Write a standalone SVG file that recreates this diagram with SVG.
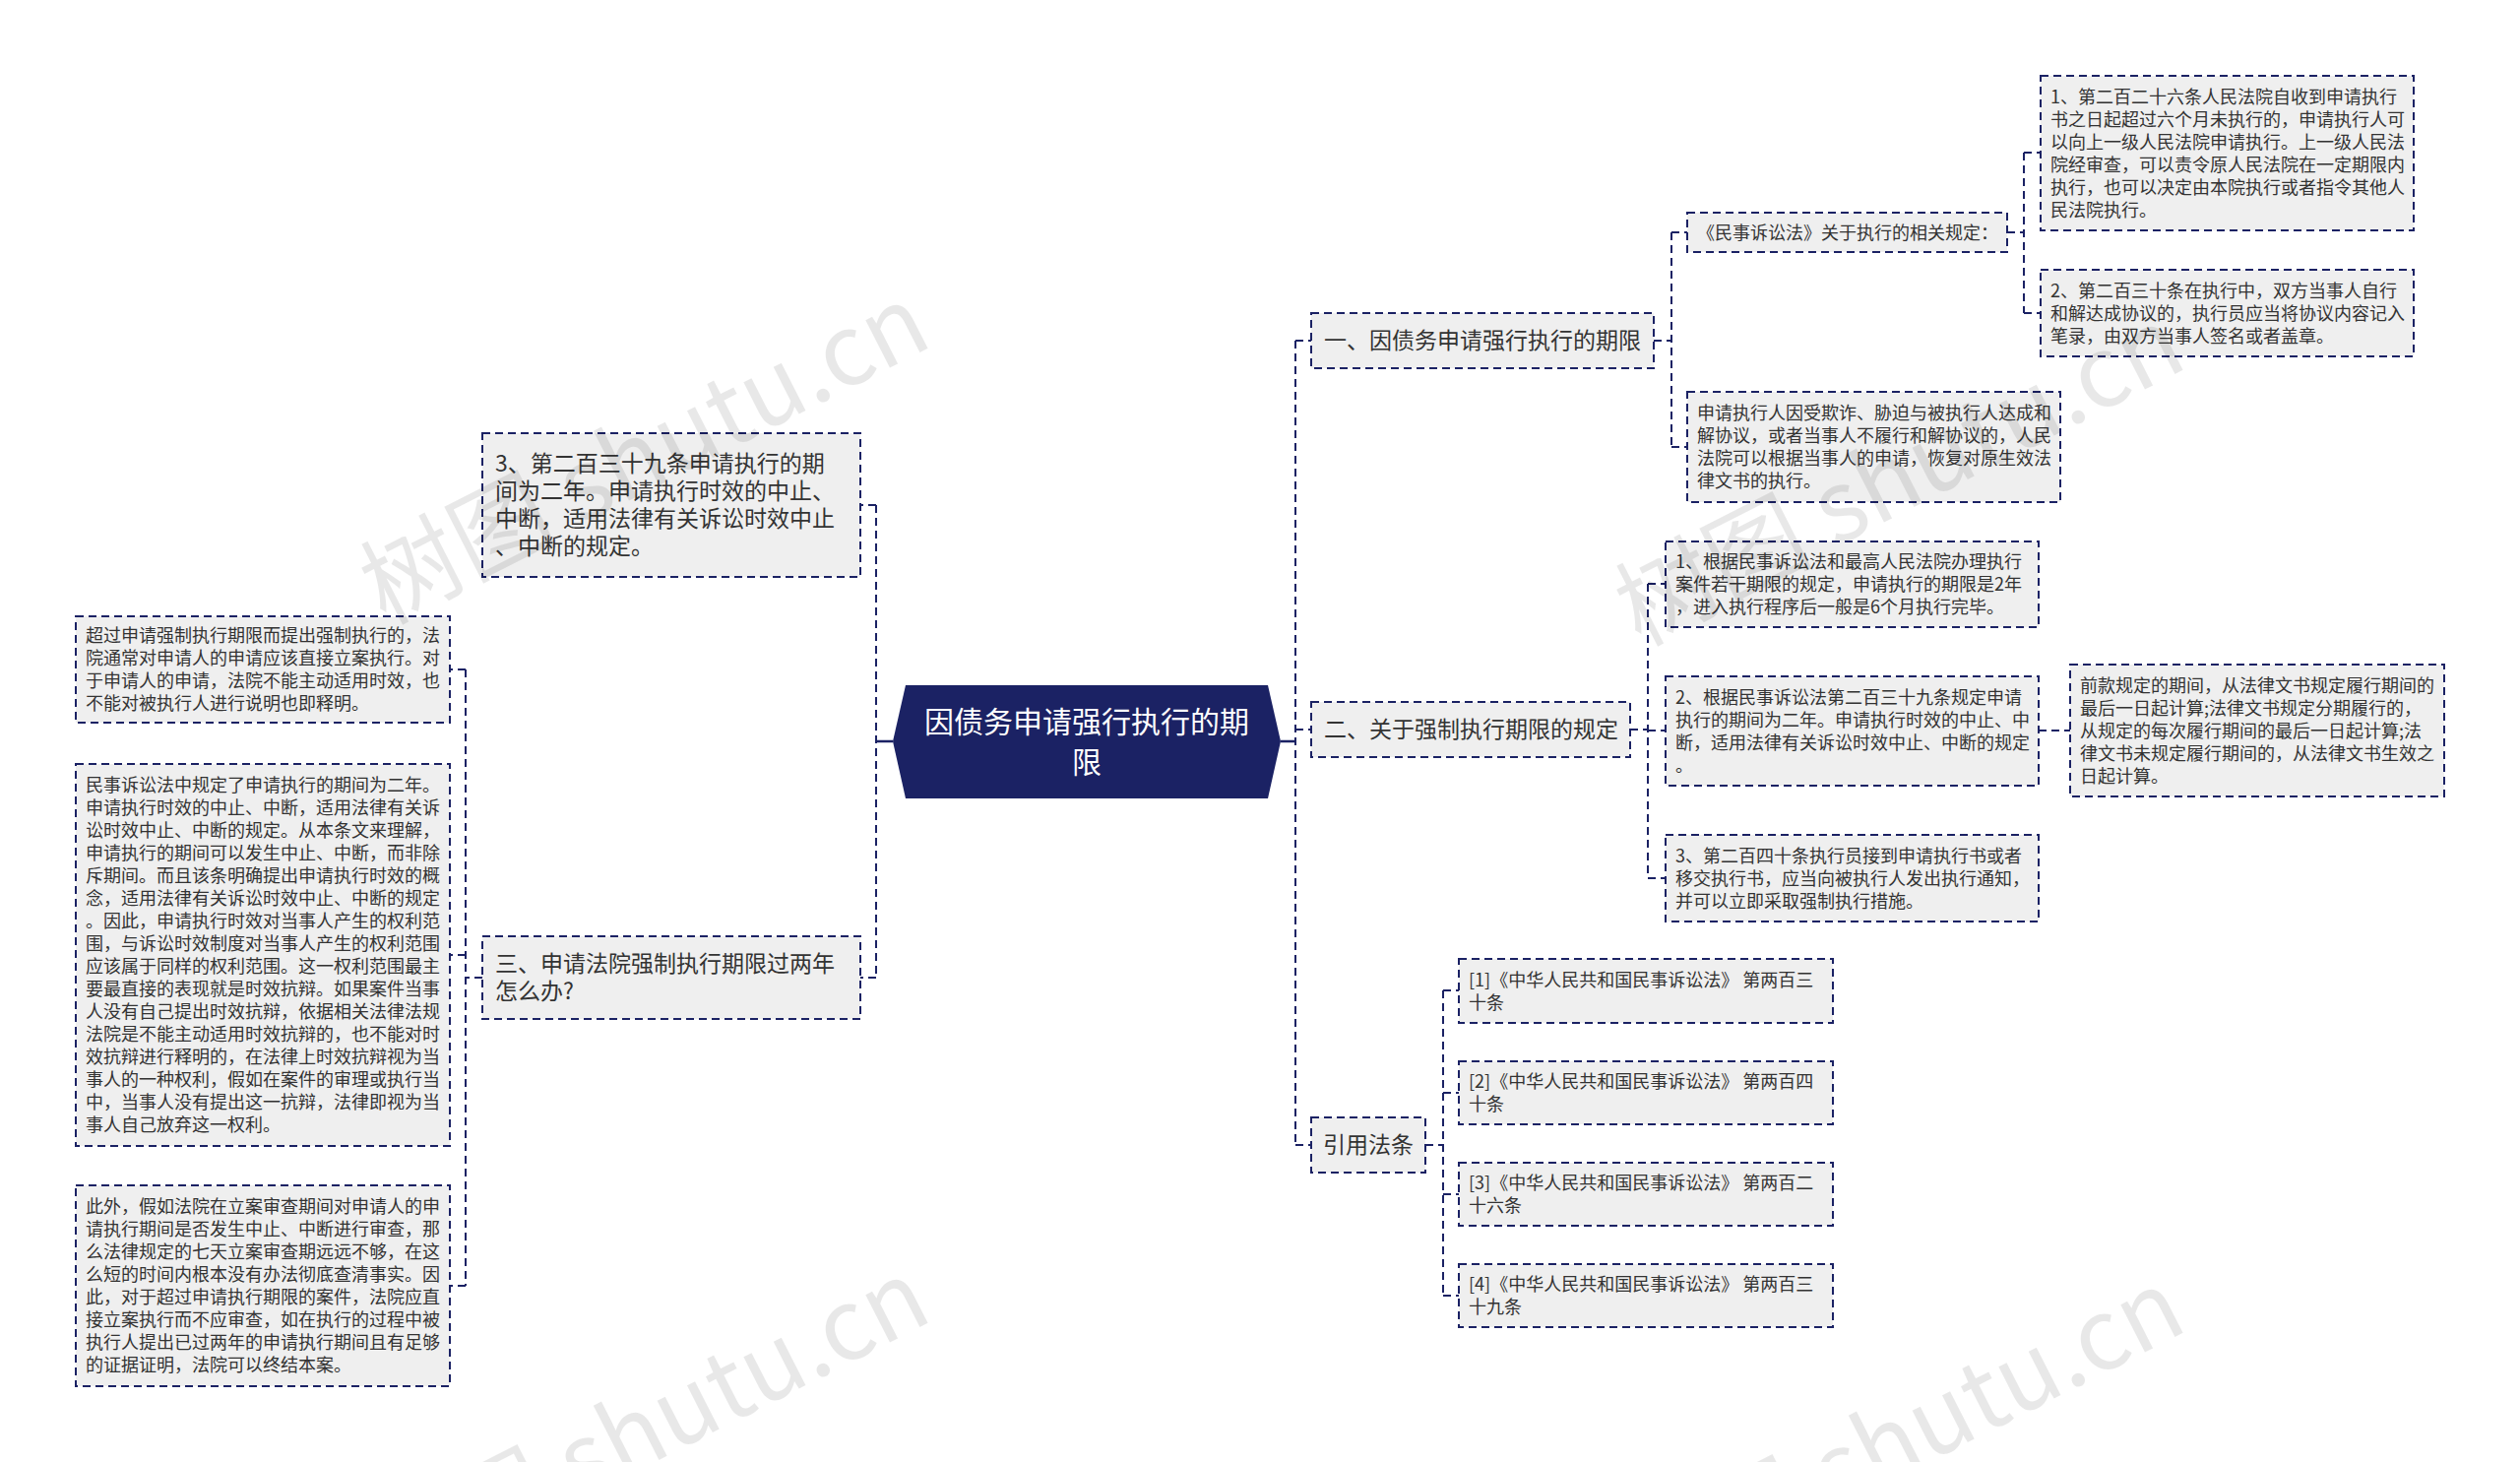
<svg xmlns="http://www.w3.org/2000/svg" width="2560" height="1485" viewBox="0 0 2560 1485">
<style>
.box{fill:#efefef;stroke:#1b2264;stroke-width:2;stroke-dasharray:8 5}
.ln{fill:none;stroke:#1b2264;stroke-width:2;stroke-dasharray:8 5}
.sl{fill:none;stroke:#1b2264;stroke-width:2.5}
text{font-family:"Noto Sans CJK SC","Noto Sans",sans-serif;fill:#333}
.t1{font-size:23px}
.t2{font-size:18px}
.tc{font-size:30px;fill:#fff}
.wm{font-size:100px;fill:#000;fill-opacity:0.09}
</style>
<rect width="2560" height="1485" fill="#fff"/>
<g id="connectors">
<path class="sl" d="M907 753H890M1301 753H1316"/>
<path class="ln" d="M890 513V993M890 513H874M890 993H874"/>
<path class="ln" d="M1316 346V1163M1316 346H1332M1316 741H1332M1316 1163H1332"/>
<path class="ln" d="M1680 346H1698M1698 236V454M1698 236H1714M1698 454H1714"/>
<path class="ln" d="M2039 236H2056M2056 155V318M2056 155H2073M2056 318H2073"/>
<path class="ln" d="M1656 741H1674M1674 593V892M1674 593H1692M1674 742H1692M1674 892H1692"/>
<path class="ln" d="M2071 742H2103"/>
<path class="ln" d="M1448 1163H1466M1466 1006V1316M1466 1006H1482M1466 1110H1482M1466 1213H1482M1466 1316H1482"/>
<path class="ln" d="M490 993H473M473 680V1306M473 680H457M473 970H457M473 1306H457"/>
</g>
<g id="root">
<polygon points="920,696 1288,696 1301,753 1288,811 920,811 907,753" fill="#1b2264"/>
<text class="tc" text-anchor="middle"><tspan x="1104" y="744">因债务申请强行执行的期</tspan><tspan x="1104" y="785">限</tspan></text>
</g>
<g id="b1">
<rect class="box" x="1332" y="318" width="348" height="56"/>
<text class="t1" x="1345" y="354">一、因债务申请强行执行的期限</text>
</g>
<g id="b1-law">
<rect class="box" x="1714" y="216" width="325" height="40"/>
<text class="t2" x="1724" y="242.5">《民事诉讼法》关于执行的相关规定：</text>
</g>
<g id="b1-law-1">
<rect class="box" x="2073" y="77" width="379" height="157"/>
<text class="t2"><tspan x="2083" y="104.5">1、第二百二十六条人民法院自收到申请执行</tspan><tspan x="2083" y="127.5">书之日起超过六个月未执行的，申请执行人可</tspan><tspan x="2083" y="150.5">以向上一级人民法院申请执行。上一级人民法</tspan><tspan x="2083" y="173.5">院经审查，可以责令原人民法院在一定期限内</tspan><tspan x="2083" y="196.5">执行，也可以决定由本院执行或者指令其他人</tspan><tspan x="2083" y="219.5">民法院执行。</tspan></text>
</g>
<g id="b1-law-2">
<rect class="box" x="2073" y="274" width="379" height="88"/>
<text class="t2"><tspan x="2083" y="301.5">2、第二百三十条在执行中，双方当事人自行</tspan><tspan x="2083" y="324.5">和解达成协议的，执行员应当将协议内容记入</tspan><tspan x="2083" y="347.5">笔录，由双方当事人签名或者盖章。</tspan></text>
</g>
<g id="b1-restore">
<rect class="box" x="1714" y="398" width="379" height="112"/>
<text class="t2"><tspan x="1724" y="426">申请执行人因受欺诈、胁迫与被执行人达成和</tspan><tspan x="1724" y="449">解协议，或者当事人不履行和解协议的，人民</tspan><tspan x="1724" y="472">法院可以根据当事人的申请，恢复对原生效法</tspan><tspan x="1724" y="495">律文书的执行。</tspan></text>
</g>
<g id="b2">
<rect class="box" x="1332" y="713" width="324" height="56"/>
<text class="t1" x="1345" y="749">二、关于强制执行期限的规定</text>
</g>
<g id="b2-1">
<rect class="box" x="1692" y="550" width="379" height="87"/>
<text class="t2"><tspan x="1702" y="577">1、根据民事诉讼法和最高人民法院办理执行</tspan><tspan x="1702" y="600">案件若干期限的规定，申请执行的期限是2年</tspan><tspan x="1702" y="623">，进入执行程序后一般是6个月执行完毕。</tspan></text>
</g>
<g id="b2-2">
<rect class="box" x="1692" y="687" width="379" height="111"/>
<text class="t2"><tspan x="1702" y="714.5">2、根据民事诉讼法第二百三十九条规定申请</tspan><tspan x="1702" y="737.5">执行的期间为二年。申请执行时效的中止、中</tspan><tspan x="1702" y="760.5">断，适用法律有关诉讼时效中止、中断的规定</tspan><tspan x="1702" y="783.5">。</tspan></text>
</g>
<g id="b2-2-1">
<rect class="box" x="2103" y="675" width="380" height="134"/>
<text class="t2"><tspan x="2113" y="702.5">前款规定的期间，从法律文书规定履行期间的</tspan><tspan x="2113" y="725.5">最后一日起计算;法律文书规定分期履行的，</tspan><tspan x="2113" y="748.5">从规定的每次履行期间的最后一日起计算;法</tspan><tspan x="2113" y="771.5">律文书未规定履行期间的，从法律文书生效之</tspan><tspan x="2113" y="794.5">日起计算。</tspan></text>
</g>
<g id="b2-3">
<rect class="box" x="1692" y="848" width="379" height="88"/>
<text class="t2"><tspan x="1702" y="875.5">3、第二百四十条执行员接到申请执行书或者</tspan><tspan x="1702" y="898.5">移交执行书，应当向被执行人发出执行通知，</tspan><tspan x="1702" y="921.5">并可以立即采取强制执行措施。</tspan></text>
</g>
<g id="b3">
<rect class="box" x="1332" y="1135" width="116" height="56"/>
<text class="t1" x="1344" y="1171">引用法条</text>
</g>
<g id="b3-1">
<rect class="box" x="1482" y="974" width="380" height="65"/>
<text class="t2"><tspan x="1492" y="1001.5">[1]《中华人民共和国民事诉讼法》 第两百三</tspan><tspan x="1492" y="1024.5">十条</tspan></text>
</g>
<g id="b3-2">
<rect class="box" x="1482" y="1078" width="380" height="64"/>
<text class="t2"><tspan x="1492" y="1105">[2]《中华人民共和国民事诉讼法》 第两百四</tspan><tspan x="1492" y="1128">十条</tspan></text>
</g>
<g id="b3-3">
<rect class="box" x="1482" y="1181" width="380" height="64"/>
<text class="t2"><tspan x="1492" y="1208">[3]《中华人民共和国民事诉讼法》 第两百二</tspan><tspan x="1492" y="1231">十六条</tspan></text>
</g>
<g id="b3-4">
<rect class="box" x="1482" y="1284" width="380" height="64"/>
<text class="t2"><tspan x="1492" y="1311">[4]《中华人民共和国民事诉讼法》 第两百三</tspan><tspan x="1492" y="1334">十九条</tspan></text>
</g>
<g id="l1">
<rect class="box" x="490" y="440" width="384" height="146"/>
<text class="t1"><tspan x="503" y="479">3、第二百三十九条申请执行的期</tspan><tspan x="503" y="507">间为二年。申请执行时效的中止、</tspan><tspan x="503" y="535">中断，适用法律有关诉讼时效中止</tspan><tspan x="503" y="563">、中断的规定。</tspan></text>
</g>
<g id="l3">
<rect class="box" x="490" y="951" width="384" height="84"/>
<text class="t1"><tspan x="503" y="987">三、申请法院强制执行期限过两年</tspan><tspan x="503" y="1015">怎么办?</tspan></text>
</g>
<g id="l3-1">
<rect class="box" x="77" y="626" width="380" height="108"/>
<text class="t2"><tspan x="87" y="652">超过申请强制执行期限而提出强制执行的，法</tspan><tspan x="87" y="675">院通常对申请人的申请应该直接立案执行。对</tspan><tspan x="87" y="698">于申请人的申请，法院不能主动适用时效，也</tspan><tspan x="87" y="721">不能对被执行人进行说明也即释明。</tspan></text>
</g>
<g id="l3-2">
<rect class="box" x="77" y="776" width="380" height="388"/>
<text class="t2"><tspan x="87" y="804">民事诉讼法中规定了申请执行的期间为二年。</tspan><tspan x="87" y="827">申请执行时效的中止、中断，适用法律有关诉</tspan><tspan x="87" y="850">讼时效中止、中断的规定。从本条文来理解，</tspan><tspan x="87" y="873">申请执行的期间可以发生中止、中断，而非除</tspan><tspan x="87" y="896">斥期间。而且该条明确提出申请执行时效的概</tspan><tspan x="87" y="919">念，适用法律有关诉讼时效中止、中断的规定</tspan><tspan x="87" y="942">。因此，申请执行时效对当事人产生的权利范</tspan><tspan x="87" y="965">围，与诉讼时效制度对当事人产生的权利范围</tspan><tspan x="87" y="988">应该属于同样的权利范围。这一权利范围最主</tspan><tspan x="87" y="1011">要最直接的表现就是时效抗辩。如果案件当事</tspan><tspan x="87" y="1034">人没有自己提出时效抗辩，依据相关法律法规</tspan><tspan x="87" y="1057">法院是不能主动适用时效抗辩的，也不能对时</tspan><tspan x="87" y="1080">效抗辩进行释明的，在法律上时效抗辩视为当</tspan><tspan x="87" y="1103">事人的一种权利，假如在案件的审理或执行当</tspan><tspan x="87" y="1126">中，当事人没有提出这一抗辩，法律即视为当</tspan><tspan x="87" y="1149">事人自己放弃这一权利。</tspan></text>
</g>
<g id="l3-3">
<rect class="box" x="77" y="1204" width="380" height="204"/>
<text class="t2"><tspan x="87" y="1232">此外，假如法院在立案审查期间对申请人的申</tspan><tspan x="87" y="1255">请执行期间是否发生中止、中断进行审查，那</tspan><tspan x="87" y="1278">么法律规定的七天立案审查期远远不够，在这</tspan><tspan x="87" y="1301">么短的时间内根本没有办法彻底查清事实。因</tspan><tspan x="87" y="1324">此，对于超过申请执行期限的案件，法院应直</tspan><tspan x="87" y="1347">接立案执行而不应审查，如在执行的过程中被</tspan><tspan x="87" y="1370">执行人提出已过两年的申请执行期间且有足够</tspan><tspan x="87" y="1393">的证据证明，法院可以终结本案。</tspan></text>
</g>
<g id="watermark">
<text class="wm" text-anchor="end" transform="translate(950 350) rotate(-27)">树图 shutu.cn</text>
<text class="wm" text-anchor="end" transform="translate(2225 372) rotate(-27)">树图 shutu.cn</text>
<text class="wm" text-anchor="end" transform="translate(950 1340) rotate(-27)">树图 shutu.cn</text>
<text class="wm" text-anchor="end" transform="translate(2225 1350) rotate(-27)">树图 shutu.cn</text>
</g>
</svg>
